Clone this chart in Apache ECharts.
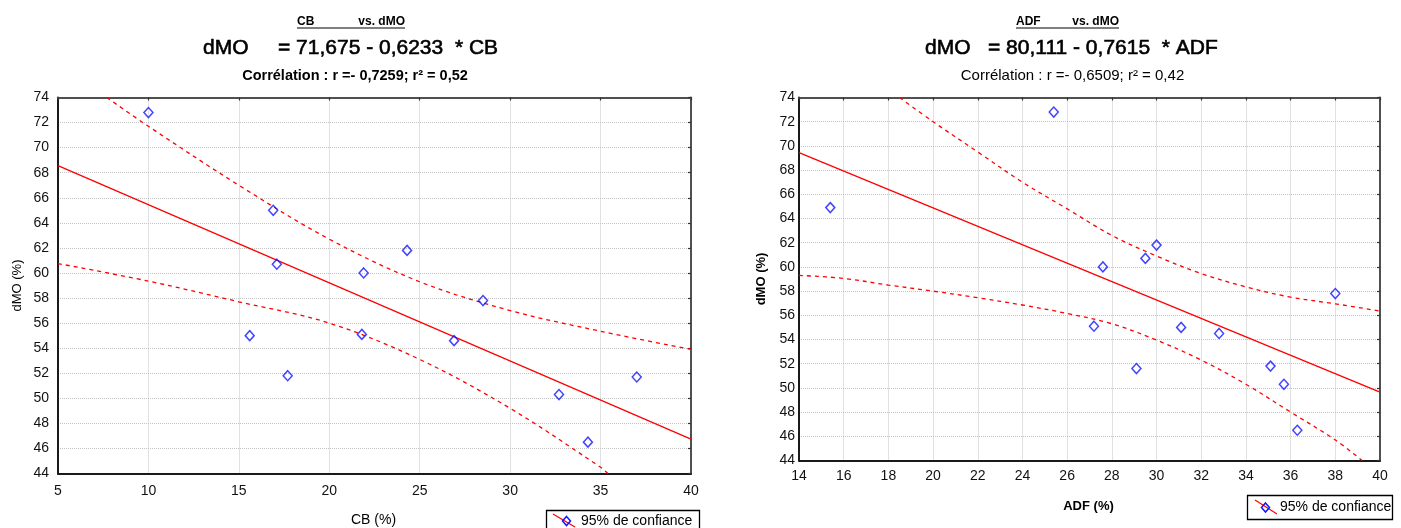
<!DOCTYPE html>
<html>
<head>
<meta charset="utf-8">
<script src="https://cdn.jsdelivr.net/npm/echarts@6/dist/echarts.min.js"></script>
<style>
html,body{margin:0;padding:0;background:#fff;}
#c{width:1401px;height:528px;}
</style>
</head>
<body>
<div id="c"></div>
<script>
// ---------- data ----------
// Left chart: CB (%) vs dMO (%)
const cbX = [10.0, 16.9, 17.1, 24.3, 21.9, 28.5, 15.6, 17.7, 21.8, 26.9, 32.7, 34.3, 37.0];
const cbY = [72.8, 65.0, 60.7, 61.8, 60.0, 57.8, 55.0, 51.8, 55.1, 54.6, 50.3, 46.5, 51.7];
const cbFitLine = [[5, 68.56], [40, 46.74]];
const cbUpperBand = [[7.7, 74.0], [10, 71.7], [15, 67.0], [20, 62.7], [25, 59.3], [30, 57.0], [35, 55.35], [40, 53.9]];
const cbLowerBand = [[5, 60.75], [10, 59.35], [15, 57.7], [20, 56.0], [25, 53.1], [30, 49.2], [35, 44.5], [35.4, 44.0]];

// Right chart: ADF (%) vs dMO (%)
const adfX = [15.4, 25.4, 27.6, 29.5, 30.0, 38.0, 27.2, 29.1, 31.1, 32.8, 35.1, 35.7, 36.3];
const adfY = [64.9, 72.8, 60.0, 60.7, 61.8, 57.8, 55.1, 51.6, 55.0, 54.5, 51.8, 50.3, 46.5];
const adfFitLine = [[14, 69.45], [40, 49.65]];
const adfUpperBand = [[18.5, 74.0], [20, 72.0], [22, 69.5], [24, 67.0], [26, 64.8], [28, 62.6], [30, 60.9], [32, 59.45], [34, 58.35], [36, 57.5], [38, 56.95], [40, 56.35]];
const adfLowerBand = [[14, 59.3], [16, 59.05], [18, 58.5], [20, 58.0], [22, 57.45], [24, 56.85], [26, 56.15], [28, 55.3], [30, 53.95], [32, 52.3], [34, 50.3], [36, 48.0], [38, 45.7], [39.2, 44.0]];

// Axis ranges / ticks
const cbAxis = {min: 5, max: 40, interval: 5};
const adfAxis = {min: 14, max: 40, interval: 2};
const dmoAxis = {min: 44, max: 74, interval: 2};

// Text
const leftTitle = ['CB', 'vs. dMO'];
const leftEq = ['dMO', '= 71,675 - 0,6233  * CB'];
const leftCorr = 'Corrélation : r =- 0,7259; r² = 0,52';
const rightTitle = ['ADF', 'vs. dMO'];
const rightEq = ['dMO', '= 80,111 - 0,7615  * ADF'];
const rightCorr = 'Corrélation : r =- 0,6509; r² = 0,42';
const legendText = '95% de confiance';
const xNameLeft = 'CB (%)';
const xNameRight = 'ADF (%)';
const yName = 'dMO (%)';

// ---------- build ----------
const FF = '"Liberation Sans", Arial, Helvetica, sans-serif';
const RED = '#ff0000';
const BLUE = '#1414ff';
const zip = (xs, ys) => xs.map((x, i) => [x, ys[i]]);

function mainX(gi, ax, margin) {
  return {
    type: 'value', gridIndex: gi, position: 'bottom', min: ax.min, max: ax.max, interval: ax.interval,
    axisLine: {show: true, onZero: false, lineStyle: {color: '#1a1a1a', width: 2}},
    axisTick: {show: false},
    axisLabel: {color: '#111', fontFamily: FF, fontSize: 14, margin: margin},
    splitLine: {show: true, lineStyle: {color: '#c4c4c4', type: 'dotted', width: 1}}
  };
}
function topX(gi, ax) {
  return {
    type: 'value', gridIndex: gi, position: 'top', min: ax.min, max: ax.max, interval: ax.interval,
    axisLine: {show: true, onZero: false, lineStyle: {color: '#505050', width: 2}},
    axisTick: {show: true, inside: true, length: 3, lineStyle: {color: '#333', width: 1.2}},
    axisLabel: {show: false}, splitLine: {show: false}
  };
}
function mainY(gi, margin) {
  return {
    type: 'value', gridIndex: gi, position: 'left', min: dmoAxis.min, max: dmoAxis.max, interval: dmoAxis.interval,
    axisLine: {show: true, onZero: false, lineStyle: {color: '#1a1a1a', width: 2}},
    axisTick: {show: false},
    axisLabel: {color: '#111', fontFamily: FF, fontSize: 14, margin: margin},
    splitLine: {show: true, lineStyle: {color: '#c4c4c4', type: 'dotted', width: 1}}
  };
}
function rightY(gi) {
  return {
    type: 'value', gridIndex: gi, position: 'right', min: dmoAxis.min, max: dmoAxis.max, interval: dmoAxis.interval,
    axisLine: {show: true, onZero: false, lineStyle: {color: '#505050', width: 2}},
    axisTick: {show: true, inside: true, length: 3, lineStyle: {color: '#333', width: 1.2}},
    axisLabel: {show: false}, splitLine: {show: false}
  };
}
function lineSeries(xi, yi, data, dashed) {
  return {
    type: 'line', xAxisIndex: xi, yAxisIndex: yi, data: data, showSymbol: false, symbol: 'none',
    smooth: dashed ? 0.35 : false, clip: true, silent: true, z: 2,
    lineStyle: {color: RED, width: 1.3, type: dashed ? [4, 4] : 'solid'}
  };
}
function scatterSeries(xi, yi, data) {
  return {
    type: 'scatter', xAxisIndex: xi, yAxisIndex: yi, data: data, symbol: 'diamond', symbolSize: [9, 10], z: 5,
    itemStyle: {color: 'rgba(255,255,255,0)', borderColor: BLUE, borderWidth: 1.5}
  };
}
function txt(x, y, text, font, align, extra, strokeW) {
  const st = {text: text, font: font, fill: '#000', align: align, verticalAlign: 'middle', textAlign: align, textVerticalAlign: 'middle'};
  if (strokeW) { st.stroke = '#000'; st.lineWidth = strokeW; }
  return Object.assign({type: 'text', x: x, y: y, silent: true, style: st}, extra || {});
}
function legendGroup(bx, by, bw, bh, l1, l2, dx, dy, tx, ty) {
  return [
    {type: 'rect', shape: {x: bx, y: by, width: bw, height: bh}, style: {fill: '#fff', stroke: '#000', lineWidth: 1.3}, silent: true, z: 10},
    {type: 'line', shape: {x1: l1[0], y1: l1[1], x2: l2[0], y2: l2[1]}, style: {stroke: RED, lineWidth: 1.2}, silent: true, z: 11},
    {type: 'polygon', shape: {points: [[dx, dy - 4.5], [dx + 4, dy], [dx, dy + 4.5], [dx - 4, dy]]}, style: {fill: 'rgba(255,255,255,0)', stroke: BLUE, lineWidth: 1.5}, silent: true, z: 12},
    Object.assign(txt(tx, ty, legendText, '14px ' + FF, 'left'), {z: 12})
  ];
}

const graphics = [
  // left titles
  txt(297, 21.5, leftTitle[0], 'bold 12px ' + FF, 'left'),
  txt(405, 21.5, leftTitle[1], 'bold 12px ' + FF, 'right'),
  {type: 'line', shape: {x1: 297, y1: 28, x2: 405, y2: 28}, style: {stroke: '#000', lineWidth: 1}, silent: true},
  txt(203, 48, leftEq[0], '21px ' + FF, 'left', null, 0.6),
  txt(278, 48, leftEq[1], '21px ' + FF, 'left', null, 0.6),
  txt(355, 75.5, leftCorr, 'bold 14.5px ' + FF, 'center'),
  // right titles
  txt(1016, 21.5, rightTitle[0], 'bold 12px ' + FF, 'left'),
  txt(1119, 21.5, rightTitle[1], 'bold 12px ' + FF, 'right'),
  {type: 'line', shape: {x1: 1016, y1: 28, x2: 1119, y2: 28}, style: {stroke: '#000', lineWidth: 1}, silent: true},
  txt(925, 48, rightEq[0], '21px ' + FF, 'left', null, 0.6),
  txt(988, 48, rightEq[1], '21px ' + FF, 'left', null, 0.6),
  txt(1072.5, 75.5, rightCorr, '15px ' + FF, 'center'),
  // axis names
  txt(17, 285.5, yName, '13px ' + FF, 'center', {rotation: Math.PI / 2}),
  txt(761, 279, yName, 'bold 13px ' + FF, 'center', {rotation: Math.PI / 2}),
  txt(373.5, 520, xNameLeft, '14px ' + FF, 'center'),
  txt(1088.5, 506, xNameRight, 'bold 13px ' + FF, 'center')
].concat(
  legendGroup(546.5, 510.5, 153, 25, [553, 514], [575, 527], 566.5, 521, 581, 521),
  legendGroup(1247.5, 495.5, 145, 24, [1255, 500], [1277, 514], 1265.5, 507.5, 1280, 507.5)
);

const option = {
  animation: false,
  backgroundColor: '#fff',
  grid: [
    {left: 58, top: 97.5, width: 633, height: 376},
    {left: 799, top: 97.5, width: 581, height: 363}
  ],
  xAxis: [mainX(0, cbAxis, 11), topX(0, cbAxis), mainX(1, adfAxis, 9), topX(1, adfAxis)],
  yAxis: [mainY(0, 9), rightY(0), mainY(1, 4), rightY(1)],
  series: [
    lineSeries(0, 0, cbFitLine, false),
    lineSeries(0, 0, cbUpperBand, true),
    lineSeries(0, 0, cbLowerBand, true),
    scatterSeries(0, 0, zip(cbX, cbY)),
    lineSeries(2, 2, adfFitLine, false),
    lineSeries(2, 2, adfUpperBand, true),
    lineSeries(2, 2, adfLowerBand, true),
    scatterSeries(2, 2, zip(adfX, adfY))
  ],
  graphic: {elements: graphics}
};

const chart = echarts.init(document.getElementById('c'), null, {renderer: 'canvas'});
chart.setOption(option);
</script>
</body>
</html>
